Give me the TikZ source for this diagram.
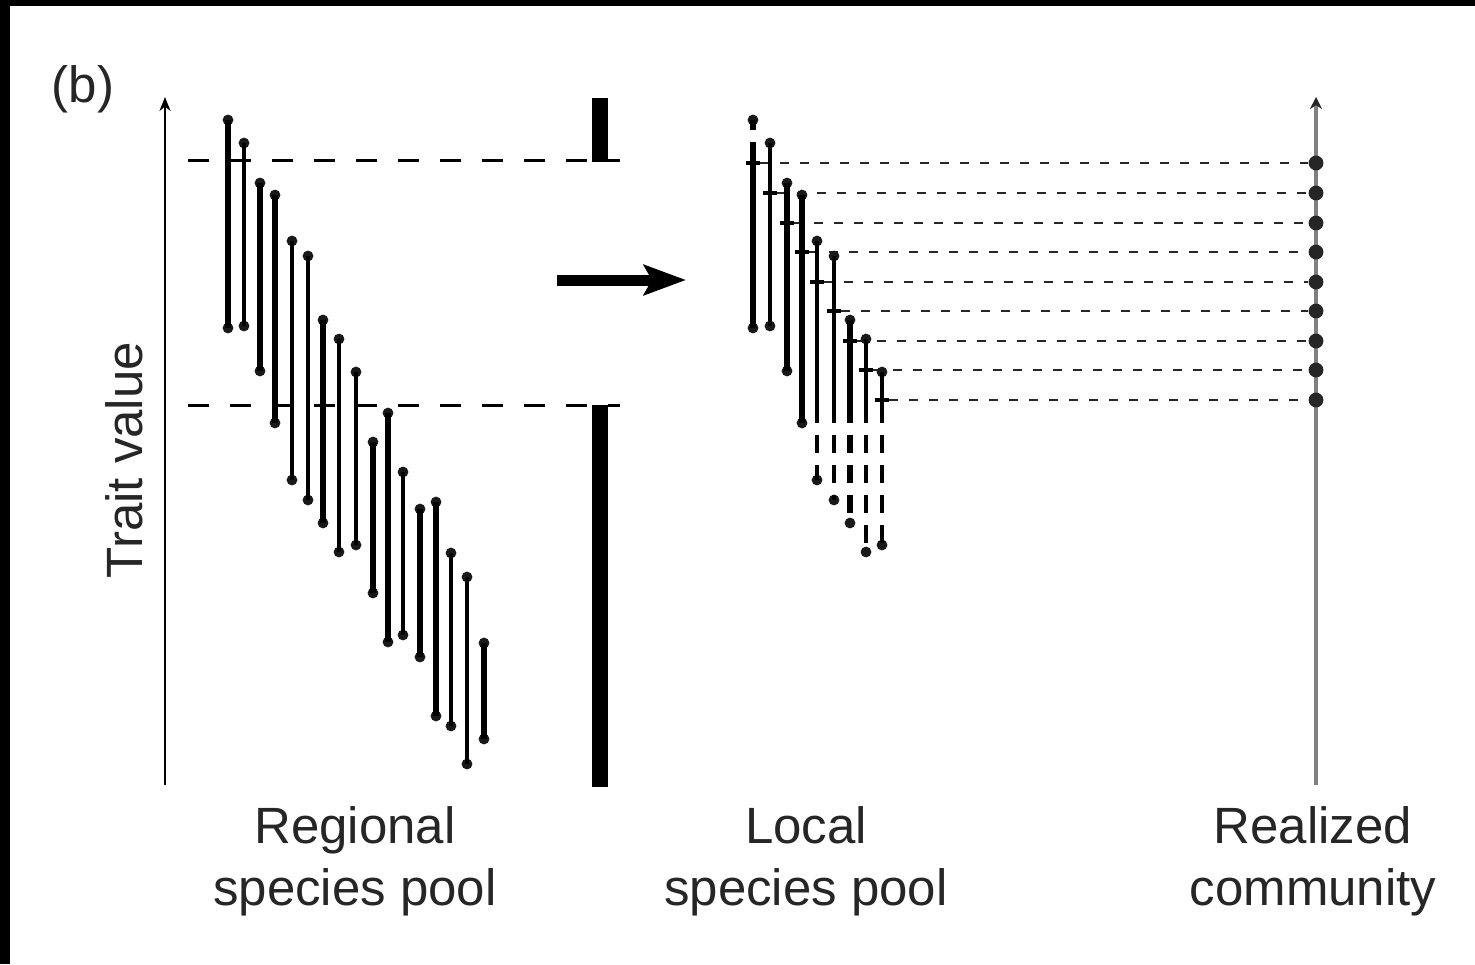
\documentclass[tikz,border=0pt]{standalone}
\usepackage{fontspec}
\setmainfont{Liberation Sans}
\usetikzlibrary{arrows.meta}

\begin{document}
\begin{tikzpicture}[x=0.5pt,y=-0.5pt,
  lbl/.style={anchor=base,inner sep=0pt,text=black!85,font=\fontsize{25.5}{31}\selectfont},
  filt/.style={line width=1.5pt,dash pattern=on 10.5pt off 10.5pt},
  conn/.style={line width=1.2pt,black!85,dash pattern=on 4.5pt off 5.5pt},
  tail/.style={dash pattern=on 9pt off 6pt},
  enddot/.style={circle,fill=black!90,inner sep=0pt,minimum size=5.4pt},
  rdot/.style={circle,fill=black!85,inner sep=0pt,minimum size=7.4pt},
  thk/.style={line width=3pt},
  thn/.style={line width=1.9pt}]

% canvas and frame edges
\useasboundingbox (0,0) rectangle (1475,964);
\fill[white] (0,0) rectangle (1475,964);
\fill[black] (0,0) rectangle (1475,6);
\fill[black] (0,0) rectangle (10,964);

% panel label and axis title
\node[lbl] (panel) at (83,102) {(b)};
\node[lbl,rotate=90] (ytitle) at (142,460) {Trait value};

% trait axis
\coordinate (ax0) at (165,785);
\coordinate (ax1) at (165,97);
\draw[line width=1.1pt,-{Stealth[length=7pt,width=5.5pt]}] (ax0) -- (ax1);

% environmental filter: two thresholds
\coordinate (fu0) at (188,160);  \coordinate (fu1) at (620,160);
\coordinate (fl0) at (188,405);  \coordinate (fl1) at (620,405);
\draw[filt] (fu0) -- (fu1);
\draw[filt] (fl0) -- (fl1);
\fill[black] (592,98) rectangle (608,162);
\fill[black] (592,405) rectangle (608,787);

% regional species pool: trait ranges
\foreach \i/\x/\t/\b/\w in {1/228/120/328/thk,2/244/143/326/thn,3/260/183/371/thk,
  4/275/195/423/thk,5/292/241/480/thn,6/308/256/500/thn,7/323/320/523/thk,
  8/339/339/552/thn,9/356/372/545/thn,10/388/413/642/thk,11/373/442/593/thk,
  12/403/472/635/thn,13/420/509/657/thk,14/436/502/716/thk,15/451/553/726/thn,
  16/467/577/764/thn,17/484/643/739/thk}{
  \node[enddot] (r\i t) at (\x,\t) {};
  \node[enddot] (r\i b) at (\x,\b) {};
  \draw[\w] (r\i t.center) -- (r\i b.center);
}

% arrow to the local pool
\coordinate (ar0) at (557,280);
\coordinate (ar1) at (686,280);
\draw[line width=5.5pt,-{Stealth[length=21pt,width=15pt,inset=4pt]}] (ar0) -- (ar1);

% realized community axis
\coordinate (rc0) at (1316,785);
\coordinate (rc1) at (1316,97);
\draw[line width=2pt,black!50,-{Stealth[length=6pt,width=6pt,color=black!85]}] (rc0) -- (rc1);

% local species pool: ranges cut by the filter, with realized trait values
\foreach \i/\x/\t/\b/\w/\k in {1/753/120/328/thk/163,2/770/143/326/thn/193,
  3/787/183/371/thk/223,4/802/195/423/thk/252,5/817/241/480/thn/282,
  6/834/256/500/thn/311,7/850/320/523/thk/341,8/866/339/552/thn/370,
  9/882/372/545/thn/400}{
  \pgfmathsetmacro{\st}{max(\t,160)}
  \pgfmathsetmacro{\sb}{min(\b,405)}
  \node[enddot] (l\i t) at (\x,\t) {};
  \node[enddot] (l\i b) at (\x,\b) {};
  \coordinate (l\i s) at (\x,\st);
  \coordinate (l\i e) at (\x,\sb);
  \draw[\w] (l\i s) -- (l\i e);
  \ifdim\t pt<160pt \draw[\w,tail] (l\i s) -- (l\i t.center); \fi
  \ifdim\b pt>405pt \draw[\w,tail] (l\i e) -- (l\i b.center); \fi
  % realized trait value and its link to the community axis
  \pgfmathsetmacro{\xa}{\x-7}
  \pgfmathsetmacro{\xb}{\x+7}
  \coordinate (k\i a) at (\xa,\k);
  \coordinate (k\i b) at (\xb,\k);
  \draw[line width=1.8pt] (k\i a) -- (k\i b);
  \node[rdot] (d\i) at (1316,\k) {};
  \draw[conn] (k\i b) -- (d\i);
}

% column labels
\node[lbl] (reg1) at (355,843) {Regional};
\node[lbl] (reg2) at (355,905) {species pool};
\node[lbl] (loc1) at (806,843) {Local};
\node[lbl] (loc2) at (806,905) {species pool};
\node[lbl] (com1) at (1313,843) {Realized};
\node[lbl] (com2) at (1313,905) {community};
\end{tikzpicture}
\end{document}
